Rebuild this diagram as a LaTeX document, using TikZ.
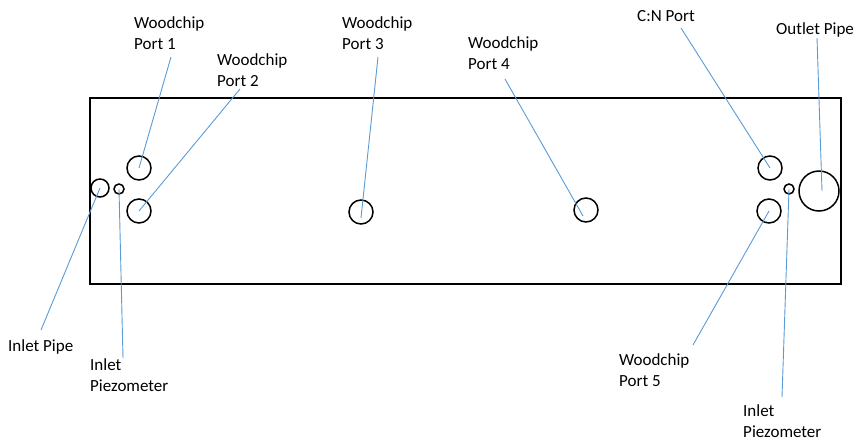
\documentclass[tikz,border=0pt]{standalone}
\usepackage{fontspec}
\setmainfont{Carlito}
\definecolor{leadblue}{HTML}{5B9BD5}
\begin{document}
\begin{tikzpicture}[x=1pt,y=-1pt,
  lbl/.style={anchor=base west,inner sep=0pt,align=left,font=\fontsize{17}{21}\selectfont},
  port/.style={circle,draw=black,line width=1.5pt,inner sep=0pt,minimum size=#1},
  leader/.style={draw=leadblue,line width=0.9pt}]
\useasboundingbox (0,0) rectangle (858,442);
\node[draw=black,line width=2.2pt,inner sep=0pt,minimum width=751pt,minimum height=186pt,anchor=north west] (box) at (89,97) {};
% ports
\node[port=24pt] (wp1) at (139,168) {};
\node[port=24pt] (wp2) at (139,211) {};
\node[port=18pt] (inpipe) at (100,188) {};
\node[port=10pt] (inpz) at (119,189) {};
\node[port=24pt] (wp3) at (361,212) {};
\node[port=24pt] (wp4) at (586,210) {};
\node[port=24pt] (cn) at (770,168) {};
\node[port=24pt] (wp5) at (769,211) {};
\node[port=10pt] (outpz) at (789,189) {};
\node[port=40pt] (outpipe) at (819,191) {};
% labels (anchor = baseline of last line)
\node[lbl] (l1) at (134,49) {Woodchip\\Port 1};
\node[lbl] (l2) at (217,86) {Woodchip\\Port 2};
\node[lbl] (l3) at (342,49) {Woodchip\\Port 3};
\node[lbl] (l4) at (468,69) {Woodchip\\Port 4};
\node[lbl] (lcn) at (637,21) {C:N Port};
\node[lbl] (lout) at (776,34) {Outlet Pipe};
\node[lbl] (linp) at (8,351) {Inlet Pipe};
\node[lbl] (linpz) at (90,391) {Inlet\\Piezometer};
\node[lbl] (l5) at (619,386) {Woodchip\\Port 5};
\node[lbl] (loutpz) at (743,437) {Inlet\\Piezometer};
% leader start points
\coordinate (s1) at (171,57);
\coordinate (s2) at (240,89);
\coordinate (s3) at (378,57);
\coordinate (s4) at (505,79);
\coordinate (scn) at (681,28);
\coordinate (sout) at (817,38);
\coordinate (sinp) at (41,330);
\coordinate (sinpz) at (123,358);
\coordinate (s5) at (693,345);
\coordinate (soutpz) at (782,397);
% leaders
\draw[leader] (s1) -- (wp1.center);
\draw[leader] (s2) -- (wp2.center);
\draw[leader] (s3) -- ([yshift=-6pt]wp3.center);
\draw[leader] (s4) -- ([xshift=-3pt,yshift=-6pt]wp4.center);
\draw[leader] (scn) -- (cn.center);
\draw[leader] (sout) -- ([xshift=3pt]outpipe.center);
\draw[leader] (sinp) -- (inpipe.center);
\draw[leader] (sinpz) -- (inpz.center);
\draw[leader] (s5) -- (wp5.center);
\draw[leader] (soutpz) -- (outpz.center);
\end{tikzpicture}
\end{document}
